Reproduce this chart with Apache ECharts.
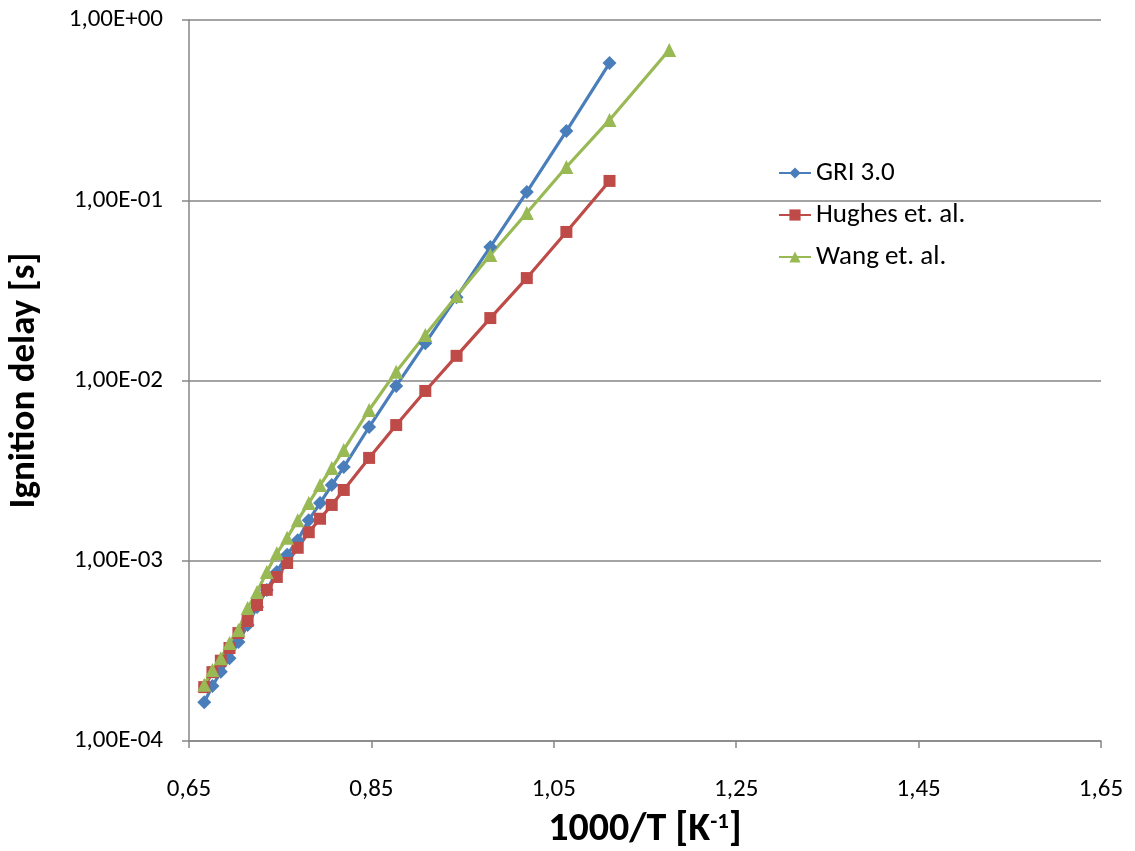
<!DOCTYPE html>
<html>
<head>
<meta charset="utf-8">
<script src="https://cdn.jsdelivr.net/npm/echarts@6/dist/echarts.min.js"></script>
<style>
html,body{margin:0;padding:0;background:#fff;}
#chart{width:1135px;height:851px;}
</style>
</head>
<body>
<div id="chart"></div>
<script>
// 1000/T values [1/K]
const invT = [0.6667,0.6757,0.6849,0.6944,0.7042,0.7143,0.7246,0.7353,0.7463,0.7576,0.7692,0.7813,0.7937,0.8065,0.8197,0.8475,0.8772,0.9091,0.9434,0.9804,1.0204,1.0638,1.1111];
const invTWang = [0.6667,0.6757,0.6849,0.6944,0.7042,0.7143,0.7246,0.7353,0.7463,0.7576,0.7692,0.7813,0.7937,0.8065,0.8197,0.8475,0.8772,0.9091,0.9434,0.9804,1.0204,1.0638,1.1111,1.1765];
// Ignition delay [s]
const gri = [1.64e-4,2.02e-4,2.42e-4,2.88e-4,3.54e-4,4.40e-4,5.54e-4,6.89e-4,8.67e-4,1.08e-3,1.30e-3,1.68e-3,2.09e-3,2.63e-3,3.31e-3,5.52e-3,9.33e-3,1.61e-2,2.90e-2,5.51e-2,0.111,0.242,0.577];
const hughes = [1.99e-4,2.41e-4,2.79e-4,3.28e-4,3.97e-4,4.63e-4,5.68e-4,6.89e-4,8.13e-4,9.72e-4,1.18e-3,1.44e-3,1.71e-3,2.04e-3,2.47e-3,3.72e-3,5.66e-3,8.75e-3,1.37e-2,2.22e-2,3.70e-2,6.67e-2,0.128];
const wang = [2.05e-4,2.48e-4,2.88e-4,3.50e-4,4.13e-4,5.47e-4,6.71e-4,8.67e-4,1.10e-3,1.34e-3,1.68e-3,2.09e-3,2.63e-3,3.27e-3,4.12e-3,6.86e-3,1.12e-2,1.79e-2,2.94e-2,4.97e-2,8.5e-2,0.153,0.279,0.682];
const seriesNames = ['GRI 3.0','Hughes et. al.','Wang et. al.'];
const xTicks = [0.65,0.85,1.05,1.25,1.45,1.65];
const xTickLabels = ['0,65','0,85','1,05','1,25','1,45','1,65'];
const yTicks = [1e-4,1e-3,1e-2,1e-1,1];
const yTickLabels = ['1,00E-04','1,00E-03','1,00E-02','1,00E-01','1,00E+00'];

const FONT = 'Carlito, Lato, sans-serif';
const GRAY = '#868686';
const pairs = (xs, ys) => xs.map((x, i) => [x, ys[i]]);

const chart = echarts.init(document.getElementById('chart'), null, {renderer: 'canvas'});
chart.setOption({
  animation: false,
  backgroundColor: '#ffffff',
  grid: {left: 189, top: 20, right: 34, bottom: 110, containLabel: false, outerBoundsMode: 'none'},
  legend: {
    orient: 'vertical',
    left: 778, top: 159, padding: 0,
    itemWidth: 32, itemHeight: 14, itemGap: 14,
    textStyle: {fontFamily: FONT, fontSize: 27, lineHeight: 28, color: '#000'},
    data: seriesNames
  },
  xAxis: {
    type: 'value', min: 0.65, max: 1.65,
    name: '1000/T [K{sup|-1}]',
    nameLocation: 'middle', nameGap: 69,
    nameTextStyle: {fontFamily: FONT, fontSize: 40, fontWeight: 'bold', color: '#000',
      rich: {sup: {fontFamily: FONT, fontSize: 23, fontWeight: 'bold', color: '#000', padding: [0,0,16,0]}}},
    axisLine: {show: true, lineStyle: {color: GRAY, width: 1.5}},
    axisTick: {show: true, length: 7, inside: false, lineStyle: {color: GRAY, width: 1.5}, customValues: xTicks},
    axisLabel: {fontFamily: FONT, fontSize: 25, color: '#000', margin: 36, customValues: xTicks,
      formatter: v => { const i = xTicks.findIndex(t => Math.abs(t - v) < 1e-6); return i >= 0 ? xTickLabels[i] : ''; }},
    splitLine: {show: false}
  },
  yAxis: {
    type: 'log', logBase: 10, min: 1e-4, max: 1,
    name: 'Ignition delay [s]',
    nameLocation: 'middle', nameGap: 146, nameRotate: 90,
    nameTextStyle: {fontFamily: FONT, fontSize: 37, fontWeight: 'bold', color: '#000'},
    axisLine: {show: true, lineStyle: {color: GRAY, width: 1.5}},
    axisTick: {show: true, length: 7, inside: false, lineStyle: {color: GRAY, width: 1.5}},
    axisLabel: {fontFamily: FONT, fontSize: 25, color: '#000', margin: 26,
      formatter: v => { const i = yTicks.findIndex(t => Math.abs(Math.log10(t) - Math.log10(v)) < 1e-6); return i >= 0 ? yTickLabels[i] : ''; }},
    splitLine: {show: true, lineStyle: {color: GRAY, width: 1.5}},
    minorTick: {show: false}
  },
  series: [
    {name: seriesNames[0], type: 'line', data: pairs(invT, gri),
      symbol: 'diamond', symbolSize: 14, showAllSymbol: true,
      lineStyle: {color: '#4A7EBB', width: 3.2}, itemStyle: {color: '#4A7EBB'}},
    {name: seriesNames[1], type: 'line', data: pairs(invT, hughes),
      symbol: 'rect', symbolSize: 12, showAllSymbol: true,
      lineStyle: {color: '#BE4B48', width: 3.2}, itemStyle: {color: '#BE4B48'}},
    {name: seriesNames[2], type: 'line', data: pairs(invTWang, wang),
      symbol: 'triangle', symbolSize: 14, showAllSymbol: true,
      lineStyle: {color: '#98B954', width: 3.2}, itemStyle: {color: '#98B954'}}
  ]
});
</script>
</body>
</html>
